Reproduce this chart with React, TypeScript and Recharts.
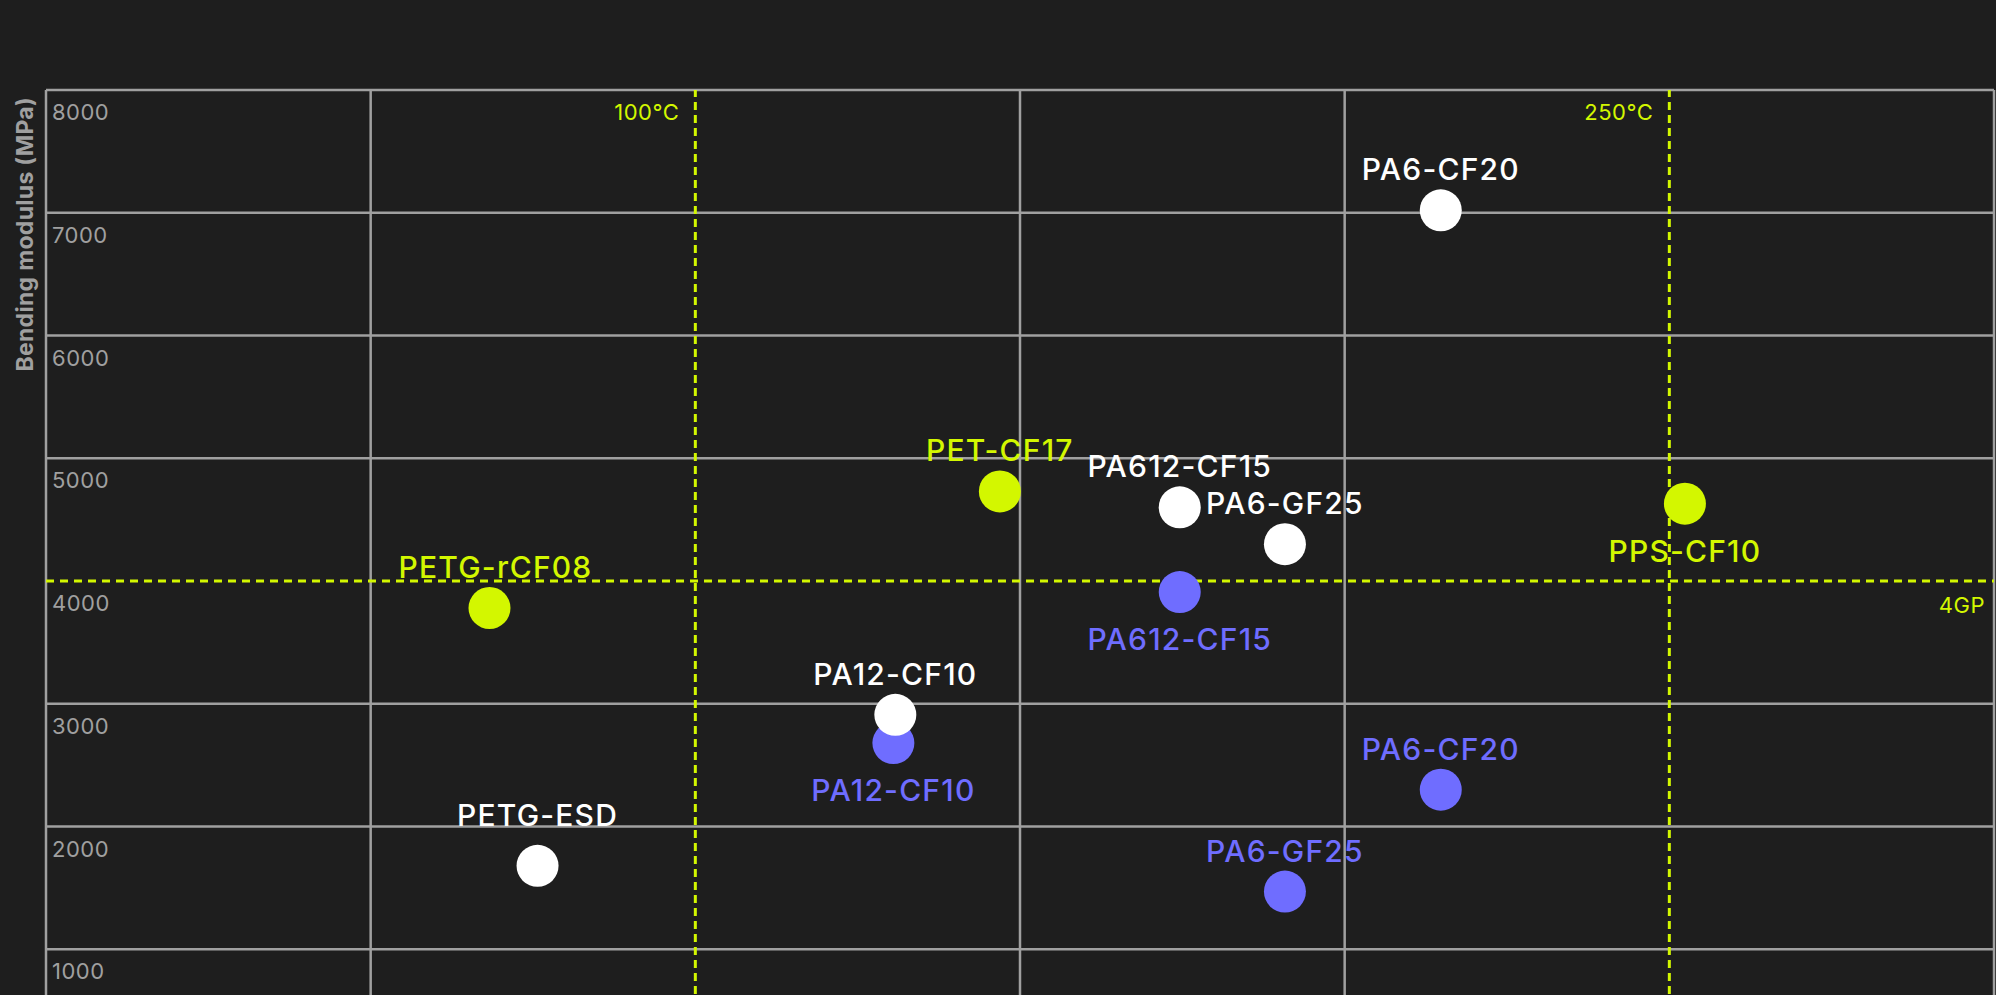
import { ScatterChart, Scatter, XAxis, YAxis, CartesianGrid, ReferenceLine } from 'recharts'

// filament grades: print temperature (°C) vs bending modulus (MPa)
const whiteNames = ['PA6-CF20', 'PA612-CF15', 'PA6-GF25', 'PA12-CF10', 'PETG-ESD']
const whiteTemp = [214.8, 174.6, 190.8, 130.8, 75.7]
const whiteModulus = [7020, 4600, 4300, 2910, 1680]

const purpleNames = ['PA612-CF15', 'PA12-CF10', 'PA6-CF20', 'PA6-GF25']
const purpleTemp = [174.6, 130.5, 214.8, 190.8]
const purpleModulus = [3910, 2680, 2300, 1470]

const limeNames = ['PET-CF17', 'PPS-CF10', 'PETG-rCF08']
const limeTemp = [146.9, 252.4, 68.3]
const limeModulus = [4730, 4630, 3780]

const yTicks = [1000, 2000, 3000, 4000, 5000, 6000, 7000, 8000]
const gridY = [0, 1000, 2000, 3000, 5000, 6000, 7000, 8000]
const gridX = [0, 50, 150, 200, 300]

const BG = '#1e1e1e'
const GRID = '#a0a0a0'
const WHITE = '#ffffff'
const PURPLE = '#6f6dff'
const LIME = '#d3f700'
const FONT = 'Inter, sans-serif'

// which labels sit under their dot instead of above it
const labelsBelow: Record<string, string[]> = {
  white: [],
  purple: ['PA612-CF15', 'PA12-CF10'],
  lime: ['PPS-CF10'],
}
// small hand nudges (px) for a few labels
const labelNudge: Record<string, [number, number]> = {
  'PETG-ESD': [0, -10],
  'PETG-rCF08': [6, 0],
}

const toPoints = (names: string[], temp: number[], mod: number[]) =>
  names.map((name, i) => ({ name, temp: temp[i], modulus: mod[i] }))

const whiteData = toPoints(whiteNames, whiteTemp, whiteModulus)
const purpleData = toPoints(purpleNames, purpleTemp, purpleModulus)
const limeData = toPoints(limeNames, limeTemp, limeModulus)

const dot = (color: string, key: string) => (props: any) => {
  const { cx, cy, payload } = props
  const below = labelsBelow[key].includes(payload.name)
  const [dx, dy] = labelNudge[payload.name] || [0, 0]
  return (
    <g>
      <circle cx={cx} cy={cy} r={21} fill={color} />
      <text
        x={cx + dx}
        y={(below ? cy + 58 : cy - 30) + dy}
        textAnchor="middle"
        fill={color}
        fontFamily={FONT}
        fontSize={30}
        fontWeight={500}
        letterSpacing={1.2}
      >
        {payload.name}
      </text>
    </g>
  )
}

const YTick = (props: any) => {
  const { x, y, payload } = props
  return (
    <text x={x + 6} y={y + 30} fill={GRID} fontFamily={FONT} fontSize={22} fontWeight={400} letterSpacing={0.5}>
      {payload.value}
    </text>
  )
}

const tempLabel = (text: string) => (props: any) => {
  const { viewBox } = props
  return (
    <text x={viewBox.x - 16} y={viewBox.y + 30} textAnchor="end" fill={LIME} fontFamily={FONT} fontSize={22} fontWeight={400} letterSpacing={0.5}>
      {text}
    </text>
  )
}

const gpLabel = (props: any) => {
  const { viewBox } = props
  return (
    <text x={viewBox.x + viewBox.width - 9} y={viewBox.y + 32} textAnchor="end" fill={LIME} fontFamily={FONT} fontSize={22} fontWeight={400} letterSpacing={0.5}>
      4GP
    </text>
  )
}

const yTitle = (props: any) => {
  const { viewBox } = props
  const x = viewBox.x + viewBox.width - 13
  const y = viewBox.y + 7
  return (
    <text x={x} y={y} transform={`rotate(-90, ${x}, ${y})`} textAnchor="end" fill={GRID} fontFamily={FONT} fontSize={23} fontWeight={700} letterSpacing={0.3}>
      Bending modulus (MPa)
    </text>
  )
}

const App = () => {
  return (
    <div style={{ position: 'absolute', left: 0, top: 0, width: 1996, height: 995, overflow: 'hidden', background: BG }}>
      <ScatterChart width={1996} height={1100} margin={{ top: 90, right: 2, bottom: 28, left: 0 }}>
        <CartesianGrid stroke={GRID} strokeWidth={2.5} horizontalValues={gridY} verticalValues={gridX} />
        <XAxis type="number" dataKey="temp" domain={[0, 300]} hide />
        <YAxis
          type="number"
          dataKey="modulus"
          domain={[0, 8000]}
          ticks={yTicks}
          width={46}
          tickSize={0}
          tickMargin={0}
          axisLine={false}
          tickLine={false}
          tick={(p: any) => <YTick {...p} />}
          label={{ content: yTitle }}
        />
        <ReferenceLine x={100} stroke={LIME} strokeWidth={3} strokeDasharray="8 5" label={{ content: tempLabel('100°C') }} />
        <ReferenceLine x={250} stroke={LIME} strokeWidth={3} strokeDasharray="8 5" label={{ content: tempLabel('250°C') }} />
        <ReferenceLine y={4000} stroke={LIME} strokeWidth={3} strokeDasharray="8 6" label={{ content: gpLabel }} />
        <Scatter name="purple" data={purpleData} fill={PURPLE} shape={dot(PURPLE, 'purple')} isAnimationActive={false} />
        <Scatter name="white" data={whiteData} fill={WHITE} shape={dot(WHITE, 'white')} isAnimationActive={false} />
        <Scatter name="lime" data={limeData} fill={LIME} shape={dot(LIME, 'lime')} isAnimationActive={false} />
      </ScatterChart>
    </div>
  )
}

export default App
